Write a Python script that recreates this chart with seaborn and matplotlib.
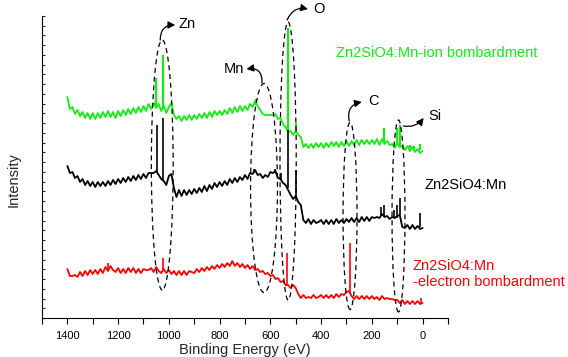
import numpy as np
import pandas as pd
import matplotlib
matplotlib.use("Agg")
import matplotlib.pyplot as plt
import seaborn as sns
from matplotlib.patches import Ellipse
from matplotlib.ticker import MultipleLocator, NullFormatter

# ---------------- data ----------------
energy = np.arange(1400, -1, -10)  # binding energy grid, eV

green_ion = [
    221, 209, 211, 204, 208, 202, 206, 200, 205, 199,
    205, 199, 205, 200, 206, 201, 207, 201, 206, 200,
    207, 202, 208, 203, 209, 204, 210, 205, 211, 206,
    212, 207, 214, 209, 215, 210, 214, 207, 212, 205,
    211, 215, 203, 199, 202, 197, 202, 198, 203, 198,
    203, 199, 204, 200, 205, 200, 206, 201, 207, 203,
    207, 203, 208, 204, 210, 205, 211, 206, 212, 207,
    212, 208, 214, 211, 217, 212, 208, 204, 203, 203,
    203, 203, 204, 199, 200, 194, 191, 186, 187, 183,
    187, 183, 181, 171, 174, 170, 174, 170, 175, 171,
    175, 170, 175, 171, 176, 172, 176, 171, 176, 172,
    177, 172, 177, 173, 178, 173, 178, 174, 178, 174,
    178, 174, 179, 173, 179, 174, 177, 173, 174, 170,
    175, 171, 172, 168, 172, 167, 171, 166, 169, 165,
    167,
]
black_plain = [
    152, 145, 146, 140, 142, 136, 139, 133, 137, 132,
    136, 131, 136, 132, 136, 132, 137, 133, 138, 134,
    139, 135, 140, 136, 141, 137, 142, 138, 143, 139,
    144, 140, 145, 145, 145, 147, 143, 139, 137, 133,
    142, 144, 130, 121, 128, 122, 128, 123, 128, 124,
    129, 125, 130, 126, 132, 127, 133, 129, 135, 131,
    136, 132, 137, 133, 139, 135, 140, 136, 141, 138,
    143, 139, 145, 144, 148, 143, 144, 140, 143, 141,
    146, 145, 147, 140, 139, 135, 133, 128, 123, 119,
    122, 116, 113, 98, 95, 99, 94, 98, 95, 96,
    98, 94, 98, 94, 98, 94, 99, 95, 98, 95,
    99, 96, 100, 96, 100, 96, 101, 97, 101, 97,
    101, 100, 101, 100, 104, 101, 102, 99, 101, 100,
    102, 103, 91, 90, 93, 89, 93, 89, 92, 89,
    90,
]
red_electron = [
    49, 42, 42, 43, 41, 46, 42, 47, 43, 48,
    44, 48, 44, 49, 45, 51, 47, 52, 48, 46,
    50, 45, 49, 45, 50, 46, 50, 45, 49, 45,
    49, 48, 48, 50, 46, 51, 47, 45, 49, 45,
    48, 44, 47, 43, 47, 43, 47, 43, 47, 46,
    45, 49, 46, 50, 47, 51, 48, 52, 49, 53,
    50, 54, 51, 55, 52, 57, 52, 55, 51, 54,
    50, 53, 49, 52, 48, 49, 46, 47, 44, 45,
    42, 43, 39, 40, 36, 37, 33, 33, 30, 33,
    30, 24, 20, 23, 20, 21, 20, 23, 20, 21,
    23, 20, 23, 20, 23, 20, 24, 21, 24, 23,
    26, 27, 22, 19, 22, 19, 22, 19, 22, 19,
    22, 19, 21, 18, 22, 19, 20, 19, 19, 18,
    18, 15, 18, 14, 17, 14, 17, 14, 17, 14,
    15,
]

# sharp photoelectron peaks: energy, foot, top
green_pk_ev = [1049, 1022, 655, 531, 498, 151, 100, 89, 50, 32, 11]
green_pk_lo = [212, 209, 213, 188, 185, 176, 174, 172, 170, 169, 168]
green_pk_hi = [240, 263, 219, 290, 195, 190, 190, 193, 173, 172, 174]

black_pk_ev = [1046, 1022, 664, 580, 557, 532, 498, 165, 152, 112, 100, 90, 10]
black_pk_lo = [146, 137, 145, 145, 138, 130, 120, 102, 102, 100, 100, 103, 91]
black_pk_hi = [193, 200, 149, 149, 145, 215, 148, 111, 113, 108, 113, 120, 105]

red_pk_ev = [1240, 1022, 533, 285, 8]
red_pk_lo = [49, 48, 32, 24, 15]
red_pk_hi = [55, 60, 65, 75, 20]

sample_names = ["Zn2SiO4:Mn\n-electron bombardment", "Zn2SiO4:Mn",
                "Zn2SiO4:Mn-ion bombardment"]
sample_colors = ["#ff0000", "#000000", "#11ee11"]

# element markers: label, centre energy, centre intensity, width(eV), height
elem_labels = ["Zn", "Mn", "O", "C", "Si"]
ell_ev = [1026, 625, 530, 286, 95]
ell_y = [153, 130, 157, 102, 102]
ell_w = [86, 106, 64, 55, 51]
ell_h = [250, 209, 278, 187, 192]

# ---------------- figure ----------------
sns.set_theme(style="ticks")
plt.rcParams["font.family"] = ["Liberation Sans", "DejaVu Sans"]

fig = plt.figure(figsize=(5.68, 3.57), dpi=100)
ax = fig.add_axes([0.0739, 0.1092, 0.7148, 0.846])

df = pd.concat([
    pd.DataFrame({"energy": energy, "intensity": red_electron, "sample": sample_names[0]}),
    pd.DataFrame({"energy": energy, "intensity": black_plain, "sample": sample_names[1]}),
    pd.DataFrame({"energy": energy, "intensity": green_ion, "sample": sample_names[2]}),
])
sns.lineplot(data=df, x="energy", y="intensity", hue="sample",
             hue_order=sample_names, palette=sample_colors,
             linewidth=1.3, legend=False, ax=ax)

ax.vlines(red_pk_ev, red_pk_lo, red_pk_hi, color=sample_colors[0], lw=1.2)
ax.vlines(black_pk_ev, black_pk_lo, black_pk_hi, color=sample_colors[1], lw=1.2)
ax.vlines(green_pk_ev, green_pk_lo, green_pk_hi, color=sample_colors[2], lw=1.6)

for cx, cy, w, h in zip(ell_ev, ell_y, ell_w, ell_h):
    ax.add_patch(Ellipse((cx, cy), w, h, fill=False, ls=(0, (4, 3)),
                         lw=0.9, ec="black", zorder=4))

# curved arrows from each ellipse to its element label
arrow_from = [(1034, 278), (633, 235), (534, 298), (289, 197), (76, 192)]
arrow_to = [(975, 293), (694, 249), (452, 309), (240, 216), (-4, 200)]
arrow_rad = [-0.5, 0.6, -0.4, -0.5, 0.3]
for (x0, y0), (x1, y1), r in zip(arrow_from, arrow_to, arrow_rad):
    ax.annotate("", xy=(x1, y1), xytext=(x0, y0),
                arrowprops=dict(arrowstyle="-|>,head_length=0.35,head_width=0.18",
                                connectionstyle=f"arc3,rad={r}",
                                color="black", lw=0.9, shrinkA=0, shrinkB=0),
                annotation_clip=False, zorder=5)

label_pos = [(963, 294, "left"), (703, 249, "right"), (432, 309, "left"),
             (215, 217, "left"), (-21, 202, "left")]
for lab, (x, y, ha) in zip(elem_labels, label_pos):
    ax.text(x, y, lab, fontsize=10.5, ha=ha, va="center", color="black")

ax.text(341, 265, sample_names[2], color=sample_colors[2], fontsize=10.5,
        ha="left", va="center")
ax.text(-9, 133, sample_names[1], color=sample_colors[1], fontsize=10.5,
        ha="left", va="center")
ax.text(38, 44, sample_names[0], color=sample_colors[0], fontsize=10.5,
        ha="left", va="center", linespacing=1.25)

ax.set_xlim(1500, -100)
ax.set_ylim(0, 302)
ax.xaxis.set_major_locator(MultipleLocator(200))
ax.xaxis.set_minor_locator(MultipleLocator(100))
ax.xaxis.set_minor_formatter(NullFormatter())
ax.set_yticks(np.linspace(0, 302, 32))
ax.set_yticklabels([])
ax.tick_params(axis="x", which="both", direction="out", length=4, width=0.8,
               labelsize=8, pad=5, colors="black")
ax.tick_params(axis="y", which="both", direction="in", length=2, width=0.8)
for s in ["top", "right"]:
    ax.spines[s].set_visible(False)
for s in ["left", "bottom"]:
    ax.spines[s].set_linewidth(0.8)
    ax.spines[s].set_color("black")

ax.set_xlabel("Binding Energy (eV)", fontsize=10.5, labelpad=2)
ax.set_ylabel("Intensity", fontsize=10.5)
ax.yaxis.set_label_coords(-0.052, 0.46)

fig.savefig("out.png", dpi=100)
